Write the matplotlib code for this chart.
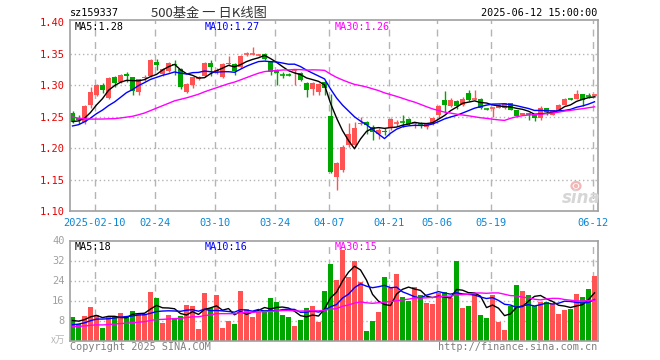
import matplotlib
matplotlib.use('Agg')  # no display in the sandbox

import matplotlib.pyplot as plt
from matplotlib.patches import Ellipse
import numpy as np
import pandas as pd

# ---- data (sz159337) ----
# trading days 2025-01-27 .. 2025-06-12, one value per day
open_ = [1.256, 1.247, 1.242, 1.268, 1.284, 1.300, 1.279, 1.312, 1.305, 1.317,
         1.312, 1.289, 1.311, 1.314, 1.337, 1.317, 1.323, 1.334, 1.325, 1.289,
         1.300, 1.310, 1.314, 1.335, 1.322, 1.313, 1.333, 1.333, 1.329, 1.348,
         1.349, 1.347, 1.350, 1.337, 1.324, 1.317, 1.317, 1.323, 1.319, 1.303,
         1.293, 1.289, 1.304, 1.251, 1.154, 1.165, 1.204, 1.204, 1.238, 1.242,
         1.234, 1.222, 1.227, 1.231, 1.239, 1.242, 1.246, 1.238, 1.239, 1.234,
         1.238, 1.252, 1.276, 1.266, 1.275, 1.268, 1.287, 1.277, 1.278, 1.263,
         1.262, 1.264, 1.264, 1.271, 1.260, 1.253, 1.255, 1.252, 1.247, 1.263,
         1.253, 1.260, 1.269, 1.279, 1.278, 1.285, 1.284, 1.283]
high = [1.258, 1.253, 1.268, 1.297, 1.301, 1.303, 1.312, 1.314, 1.317, 1.321,
        1.313, 1.310, 1.316, 1.341, 1.341, 1.327, 1.337, 1.339, 1.327, 1.303,
        1.313, 1.315, 1.337, 1.339, 1.327, 1.335, 1.346, 1.335, 1.348, 1.352,
        1.361, 1.350, 1.351, 1.338, 1.326, 1.320, 1.319, 1.325, 1.320, 1.304,
        1.304, 1.303, 1.306, 1.285, 1.178, 1.204, 1.240, 1.242, 1.250, 1.243,
        1.236, 1.231, 1.231, 1.247, 1.244, 1.252, 1.247, 1.242, 1.241, 1.239,
        1.248, 1.268, 1.290, 1.279, 1.276, 1.281, 1.292, 1.292, 1.280, 1.264,
        1.264, 1.270, 1.272, 1.272, 1.261, 1.256, 1.256, 1.253, 1.266, 1.264,
        1.261, 1.270, 1.279, 1.280, 1.292, 1.286, 1.288, 1.286]
low = [1.239, 1.238, 1.238, 1.263, 1.283, 1.287, 1.278, 1.297, 1.303, 1.304,
       1.284, 1.284, 1.306, 1.313, 1.324, 1.314, 1.321, 1.316, 1.293, 1.287,
       1.296, 1.308, 1.312, 1.314, 1.318, 1.311, 1.332, 1.316, 1.327, 1.346,
       1.348, 1.346, 1.340, 1.316, 1.300, 1.311, 1.314, 1.300, 1.306, 1.281,
       1.284, 1.284, 1.284, 1.160, 1.133, 1.162, 1.202, 1.202, 1.236, 1.223,
       1.213, 1.215, 1.220, 1.228, 1.235, 1.234, 1.236, 1.232, 1.232, 1.230,
       1.236, 1.248, 1.255, 1.265, 1.262, 1.267, 1.274, 1.276, 1.262, 1.260,
       1.250, 1.263, 1.262, 1.260, 1.249, 1.252, 1.245, 1.243, 1.245, 1.253,
       1.252, 1.259, 1.268, 1.276, 1.277, 1.267, 1.279, 1.281]
close_ = [1.242, 1.245, 1.266, 1.289, 1.300, 1.292, 1.311, 1.303, 1.316, 1.315,
          1.290, 1.309, 1.313, 1.340, 1.332, 1.325, 1.335, 1.332, 1.297, 1.301,
          1.312, 1.313, 1.335, 1.329, 1.324, 1.333, 1.335, 1.323, 1.346, 1.349,
          1.350, 1.348, 1.342, 1.321, 1.319, 1.316, 1.316, 1.324, 1.308, 1.292,
          1.303, 1.302, 1.296, 1.162, 1.176, 1.202, 1.223, 1.231, 1.240, 1.236,
          1.226, 1.229, 1.225, 1.246, 1.240, 1.241, 1.238, 1.239, 1.238, 1.238,
          1.247, 1.267, 1.268, 1.276, 1.266, 1.278, 1.276, 1.278, 1.263, 1.262,
          1.263, 1.269, 1.271, 1.261, 1.251, 1.255, 1.254, 1.247, 1.264, 1.257,
          1.260, 1.269, 1.278, 1.278, 1.285, 1.276, 1.283, 1.284]
# volume, in 万
vol = [9.6, 6.7, 10.0, 13.6, 10.3, 5.2, 9.3, 10.0, 11.2, 9.9,
       12.0, 10.7, 10.7, 19.6, 17.2, 7.2, 10.3, 9.2, 10.0, 14.3,
       13.9, 4.7, 19.2, 13.2, 18.3, 5.2, 8.0, 6.7, 19.9, 12.5,
       9.6, 11.6, 12.3, 17.1, 15.6, 10.3, 9.6, 5.9, 8.3, 13.2,
       13.9, 7.6, 20.0, 30.7, 24.3, 36.3, 25.3, 31.9, 23.3, 3.9,
       7.9, 11.6, 25.3, 21.2, 26.7, 17.6, 16.0, 21.6, 18.3, 15.2,
       14.7, 18.9, 19.6, 16.9, 32.0, 13.2, 13.9, 19.2, 10.3, 9.2,
       18.3, 7.6, 4.3, 13.9, 22.3, 19.9, 18.3, 13.9, 15.6, 15.6,
       14.7, 10.7, 12.3, 12.7, 18.7, 17.3, 20.7, 25.9]

# 29 sessions before the first candle, only used to seed the moving averages
# (estimated from where the MA lines start on the left edge)
pre_close = [1.300, 1.295, 1.305, 1.298, 1.290, 1.300, 1.295, 1.285, 1.275, 1.250,
             1.235, 1.230, 1.225, 1.215, 1.210, 1.220, 1.215, 1.225, 1.230, 1.228,
             1.225, 1.220, 1.230, 1.230, 1.235, 1.240, 1.245, 1.243, 1.240]
pre_vol = [5, 6, 5, 5, 6, 5, 4, 5, 6, 5, 5, 5, 5,
           6, 5, 6, 5, 5, 6, 5,
           4, 5, 5, 4, 5, 8, 7, 8, 7.4]

tick_pos = [4, 14, 24, 34, 43, 53, 61, 70, 87]
tick_labels = ['2025-02-10', '02-24', '03-10', '03-24', '04-07',
               '04-21', '05-06', '05-19', '06-12']
price_ticks = [1.10, 1.15, 1.20, 1.25, 1.30, 1.35, 1.40]
vol_ticks = [8, 16, 24, 32, 40]

ma_text = ['MA5:1.28', 'MA10:1.27', 'MA30:1.26']
vol_ma_text = ['MA5:18', 'MA10:16', 'MA30:15']

# ---- style ----
RED = '#ff5252'
GREEN = '#00a600'
MA_COLORS = ['black', '#0000ff', '#ff00ff']
GRID = '#b4b4b4'
MONO = ['DejaVu Sans Mono', 'Noto Sans CJK SC']
CJK = ['Noto Sans CJK SC', 'DejaVu Sans']

W, H = 660, 360


def box(l, t, r, b):
    # pixel box -> figure fraction rect
    return [l / W, 1 - b / H, (r - l) / W, (b - t) / H]


def ftext(px, py, s, **kw):
    fig.text(px / W, 1 - py / H, s, **kw)


fig = plt.figure(figsize=(W / 100, H / 100), dpi=100)
fig.patch.set_facecolor('white')

ax = fig.add_axes(box(70, 20, 598, 211))
axv = fig.add_axes(box(70, 240.5, 598, 340.5))

x = np.arange(len(close_))
o = np.array(open_)
c = np.array(close_)
hi = np.array(high)
lo = np.array(low)
v = np.array(vol)
up = c >= o
cols = np.where(up, RED, GREEN)

# moving averages
closes_all = pd.Series(pre_close + close_)
vols_all = pd.Series(pre_vol + vol)
n_pre = len(pre_close)
ma = [closes_all.rolling(n).mean().values[n_pre:] for n in (5, 10, 30)]
vma = [vols_all.rolling(n).mean().values[n_pre:] for n in (5, 10, 30)]

grid_x = np.array(tick_pos) - 0.33  # grid sits on the left edge of the slot

for a in (ax, axv):
    a.set_xlim(-0.42, len(x) - 0.42)
    for gx in grid_x:
        a.axvline(gx, color=GRID, lw=1, ls=(0, (5, 4)), zorder=0)
    for s in a.spines.values():
        s.set_color('#a0a0a0')
        s.set_linewidth(1.2)
    a.tick_params(length=0)

# ---- price panel ----
ax.set_ylim(1.10, 1.4032)
for gy in price_ticks[1:-1]:
    ax.axhline(gy, color=GRID, lw=1, ls=(0, (1, 2)), zorder=0)

ax.vlines(x, lo, hi, colors=cols, lw=1, zorder=2)
doji = np.abs(c - o) < 0.0015
body = ~doji
ax.bar(x[body], np.abs(c - o)[body], bottom=np.minimum(o, c)[body],
       width=0.83, color=cols[body], linewidth=0, zorder=2)
ax.hlines(c[doji], x[doji] - 0.42, x[doji] + 0.42, colors=cols[doji], lw=1.2, zorder=2)

for m, col in zip(ma, MA_COLORS):
    ax.plot(x, m, color=col, lw=1, zorder=3)

ax.set_yticks(price_ticks)
ax.set_yticklabels(['%.2f' % t for t in price_ticks], color='#e60000',
                   fontsize=7.5, family=MONO)
ax.tick_params(axis='y', pad=4)
ax.set_xticks(grid_x)
ax.set_xticklabels(tick_labels, color='#0a86d6', fontsize=7.5, family=MONO)
ax.tick_params(axis='x', pad=5)

# ---- volume panel ----
axv.set_ylim(0, 40)
for gy in vol_ticks[:-1]:
    axv.axhline(gy, color=GRID, lw=1, ls=(0, (1, 2)), zorder=0)
axv.bar(x, v, width=0.83, color=cols, linewidth=0, zorder=2)
for m, col in zip(vma, MA_COLORS):
    axv.plot(x, m, color=col, lw=1, zorder=3)
axv.set_yticks(vol_ticks)
axv.set_yticklabels([str(t) for t in vol_ticks], color='#a0a0a0',
                    fontsize=7.5, family=MONO)
axv.tick_params(axis='y', pad=4)
axv.set_xticks([])

# ---- texts ----
ftext(70, 13, 'sz159337', ha='left', va='center', fontsize=7.3, family=MONO)
ftext(209, 13, '500基金 一 日K线图', ha='center', va='center', fontsize=9.5,
      color='#333333', family=CJK)
ftext(597, 13, '2025-06-12 15:00:00', ha='right', va='center', fontsize=7.3,
      family=MONO)

for px, s, col in zip((75, 205, 335), ma_text, MA_COLORS):
    ftext(px, 26.5, s, ha='left', va='center', fontsize=7.3, color=col, family=MONO)
for px, s, col in zip((75, 205, 335), vol_ma_text, MA_COLORS):
    ftext(px, 246.5, s, ha='left', va='center', fontsize=7.3, color=col, family=MONO)

ftext(65, 340, 'x万', ha='right', va='center', fontsize=7, color='#b8b8b8', family=CJK)
ftext(70, 347, 'Copyright 2025 SINA.COM', ha='left', va='center', fontsize=7.3,
      color='#808080', family=MONO)
ftext(597, 347, 'http://finance.sina.com.cn', ha='right', va='center', fontsize=7.3,
      color='#808080', family=MONO)

# sina watermark: grey word with a pale red eye above it
ftext(581, 198, 'sina', ha='center', va='center', fontsize=12, fontweight='bold',
      fontstyle='italic', color='#d6d6d6', family=['DejaVu Sans'])
fig.add_artist(Ellipse((576 / W, 1 - 186 / H), 9 / W, 8 / H, fill=False,
                       edgecolor='#f2b8b8', lw=1.6, transform=fig.transFigure))
fig.add_artist(Ellipse((576 / W, 1 - 186 / H), 3 / W, 3 / H, color='#f2b8b8',
                       transform=fig.transFigure))

fig.savefig('out.png', dpi=100)
plt.close('all')
